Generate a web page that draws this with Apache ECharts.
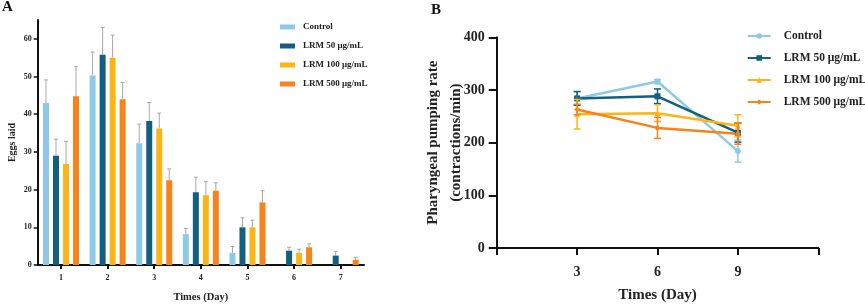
<!DOCTYPE html>
<html><head><meta charset="utf-8">
<script src="https://cdn.jsdelivr.net/npm/echarts@6/dist/echarts.min.js"></script>
<style>html,body{margin:0;padding:0;background:#fff}#c{width:865px;height:308px}</style>
</head><body><div id="c"></div>
<script>
// Panel A data
const daysA = ['1','2','3','4','5','6','7'];
const seriesNames = ['Control','LRM 50 μg/mL','LRM 100 μg/mL','LRM 500 μg/mL'];
const eggsControl = [43.0, 50.3, 32.3, 8.2, 3.2, 0, 0];
const eggsLRM50  = [29.0, 55.8, 38.2, 19.3, 10.0, 3.8, 2.5];
const eggsLRM100 = [26.8, 55.0, 36.2, 18.5, 10.0, 3.2, 0];
const eggsLRM500 = [44.8, 44.0, 22.5, 19.7, 16.6, 4.7, 1.4];
const errControl = [6.1, 6.2, 5.1, 1.5, 1.7, null, null];
const errLRM50  = [4.4, 7.2, 4.9, 4.0, 2.5, 0.9, 1.1];
const errLRM100 = [6.0, 6.0, 4.1, 3.6, 1.9, 1.0, null];
const errLRM500 = [7.8, 4.4, 3.0, 2.1, 3.1, 0.9, 0.6];
const yTicksA = [0,10,20,30,40,50,60];

// Panel B data
const daysB = [3, 6, 9];
const xLabelsB = [3, 6, 9];
const pumpControl = [284, 316, 184];
const pumpLRM50  = [284, 288, 219];
const pumpLRM100 = [254, 256, 232];
const pumpLRM500 = [263, 228, 217];
const pErrControl = [13, 4, 21];
const pErrLRM50  = [13, 14, 18];
const pErrLRM100 = [28, 16, 21];
const pErrLRM500 = [10, 20, 20];

const colors = ['#8ECAE6', '#12607E', '#FDB515', '#F7831A'];
const FONT = 'Liberation Serif';

const eggs = [eggsControl, eggsLRM50, eggsLRM100, eggsLRM500];
const errs = [errControl, errLRM50, errLRM100, errLRM500];
const pumps = [pumpControl, pumpLRM50, pumpLRM100, pumpLRM500];
const pErrs = [pErrControl, pErrLRM50, pErrLRM100, pErrLRM500];
const symbols = ['circle', 'rect', 'triangle', 'diamond'];
const lineNames = seriesNames.map(n => n + ' ');

const BW = 6, GAP = 4;
const offsets = [0,1,2,3].map(i => -(4*BW + 3*GAP)/2 + BW/2 + i*(BW+GAP));

const series = [];
seriesNames.forEach((n, i) => {
  series.push({
    name: n, type: 'bar', xAxisIndex: 0, yAxisIndex: 0,
    data: eggs[i], barWidth: BW, barGap: (GAP/BW*100) + '%',
    itemStyle: { color: colors[i] }, z: 2
  });
});
seriesNames.forEach((n, i) => {
  series.push({
    type: 'custom', xAxisIndex: 0, yAxisIndex: 0, z: 1, silent: true,
    data: daysA.map((d, k) => [k, eggs[i][k], errs[i][k]]).filter(r => r[2] != null),
    renderItem: function (params, api) {
      const k = api.value(0), v = api.value(1), e = api.value(2);
      const p0 = api.coord([k, v]);
      const p1 = api.coord([k, v + e]);
      const x = p0[0] + offsets[i];
      const st = { stroke: '#A8A8A8', lineWidth: 1 };
      return { type: 'group', children: [
        { type: 'line', shape: { x1: x, y1: p0[1], x2: x, y2: p1[1] }, style: st },
        { type: 'line', shape: { x1: x - 2, y1: p1[1], x2: x + 2, y2: p1[1] }, style: st }
      ]};
    }
  });
});
seriesNames.forEach((n, i) => {
  series.push({
    name: lineNames[i], type: 'line', xAxisIndex: 1, yAxisIndex: 1,
    data: daysB.map((d, k) => [d, pumps[i][k]]),
    symbol: symbols[i], symbolSize: 6,
    lineStyle: { color: colors[i], width: 2.5 },
    itemStyle: { color: colors[i] }, z: 3
  });
  series.push({
    type: 'custom', xAxisIndex: 1, yAxisIndex: 1, z: 4, silent: true,
    data: daysB.map((d, k) => [d, pumps[i][k], pErrs[i][k]]),
    renderItem: function (params, api) {
      const d = api.value(0), v = api.value(1), e = api.value(2);
      const pt = api.coord([d, v + e]);
      const pb = api.coord([d, v - e]);
      const st = { stroke: colors[i], lineWidth: 1.5 };
      return { type: 'group', children: [
        { type: 'line', shape: { x1: pt[0], y1: pt[1], x2: pb[0], y2: pb[1] }, style: st },
        { type: 'line', shape: { x1: pt[0] - 3.5, y1: pt[1], x2: pt[0] + 3.5, y2: pt[1] }, style: st },
        { type: 'line', shape: { x1: pb[0] - 3.5, y1: pb[1], x2: pb[0] + 3.5, y2: pb[1] }, style: st }
      ]};
    }
  });
});

const axisLine = { show: true, lineStyle: { color: '#111', width: 2 } };

const option = {
  animation: false,
  backgroundColor: '#fff',
  textStyle: { fontFamily: FONT },
  title: [
    { text: 'A', left: 2, top: 0, padding: 0, textStyle: { fontFamily: FONT, fontWeight: 'bold', fontSize: 15, color: '#111' } },
    { text: 'B', left: 431, top: 3, padding: 0, textStyle: { fontFamily: FONT, fontWeight: 'bold', fontSize: 15, color: '#111' } }
  ],
  legend: [
    {
      data: seriesNames.map(n => ({ name: n, icon: 'rect' })),
      orient: 'vertical', left: 280, top: 21, itemWidth: 15, itemHeight: 5, itemGap: 7, padding: 0,
      textStyle: { fontFamily: FONT, fontWeight: 'bold', fontSize: 9, color: '#222', lineHeight: 12, padding: [0,0,0,3] }
    },
    {
      data: lineNames,
      formatter: n => n.trim(),
      orient: 'vertical', left: 746.7, top: 28, itemWidth: 23, itemHeight: 7, itemGap: 6, padding: 0,
      textStyle: { fontFamily: FONT, fontWeight: 'bold', fontSize: 11.5, color: '#222', lineHeight: 16, padding: [0,0,0,8] }
    }
  ],
  grid: [
    { left: 37.7, right: 501, top: 20, bottom: 41.3 },
    { left: 496.7, right: 46.7, top: 37.3, bottom: 57.3 }
  ],
  xAxis: [
    {
      gridIndex: 0, type: 'category', data: daysA,
      axisLine: axisLine,
      axisTick: { show: true, alignWithLabel: true, length: 4, lineStyle: { color: '#111', width: 2 } },
      axisLabel: { fontFamily: FONT, fontWeight: 'bold', fontSize: 8, color: '#222', margin: 9 },
      name: 'Times (Day)', nameLocation: 'middle', nameGap: 27, nameMoveOverlap: false,
      nameTextStyle: { fontFamily: FONT, fontWeight: 'bold', fontSize: 10.5, color: '#222' }
    },
    {
      gridIndex: 1, type: 'value', min: 0, max: 12, interval: 3,
      axisLine: axisLine, splitLine: { show: false },
      axisTick: { show: true, length: 7, lineStyle: { color: '#111', width: 2 } },
      axisLabel: { fontFamily: FONT, fontWeight: 'bold', fontSize: 14, color: '#222', margin: 17,
        formatter: v => xLabelsB.indexOf(v) >= 0 ? String(v) : '' },
      name: 'Times (Day)', nameLocation: 'middle', nameGap: 40, nameMoveOverlap: false,
      nameTextStyle: { fontFamily: FONT, fontWeight: 'bold', fontSize: 15, color: '#222' }
    }
  ],
  yAxis: [
    {
      gridIndex: 0, type: 'value', min: 0, max: 65,
      axisLine: axisLine, splitLine: { show: false },
      axisTick: { show: true, length: 4, customValues: yTicksA, lineStyle: { color: '#111', width: 1.5 } },
      axisLabel: { fontFamily: FONT, fontWeight: 'bold', fontSize: 8, color: '#222', margin: 6, customValues: yTicksA },
      name: 'Eggs laid', nameLocation: 'middle', nameGap: 20, nameMoveOverlap: false,
      nameTextStyle: { fontFamily: FONT, fontWeight: 'bold', fontSize: 10, color: '#222' }
    },
    {
      gridIndex: 1, type: 'value', min: 0, max: 400, interval: 100,
      axisLine: axisLine, splitLine: { show: false },
      axisTick: { show: true, length: 8, lineStyle: { color: '#111', width: 2 } },
      axisLabel: { fontFamily: FONT, fontWeight: 'bold', fontSize: 14, color: '#222', margin: 12 },
      name: 'Pharyngeal pumping rate\n(contractions/min)', nameLocation: 'middle', nameGap: 29, nameMoveOverlap: false,
      nameTextStyle: { fontFamily: FONT, fontWeight: 'bold', fontSize: 15, color: '#222', lineHeight: 23 }
    }
  ],
  series: series
};
const chart = echarts.init(document.getElementById('c'), null, { renderer: 'canvas' });
chart.setOption(option);
</script></body></html>
